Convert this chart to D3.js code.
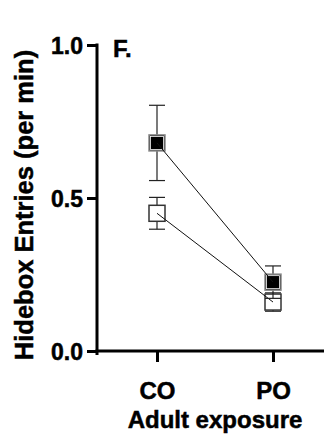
<!DOCTYPE html>
<html><head><meta charset="utf-8">
<script src="https://cdn.jsdelivr.net/npm/d3@7/dist/d3.min.js"></script>
<style>body{margin:0;background:#fff}svg{display:block}text{font-family:"Liberation Sans",Arial,sans-serif;font-weight:bold;fill:#000;stroke:#000;stroke-width:0.5px}</style>
</head><body><svg id="c" width="324" height="438"></svg>
<script>
const categories = ["CO", "PO"];
const filledMean = [0.68, 0.225];
const filledSem = [0.123, 0.053];
const openMean = [0.45, 0.16];
const openSem = [0.052, 0.03];
const yTicks = [0.0, 0.5, 1.0];

const svg = d3.select("#c");
const y = d3.scaleLinear().domain([0, 1]).range([351, 45]);
const x = d3.scalePoint().domain(categories).range([157, 273]);
const x0 = 97, x1 = 324;

// axes
const yAxis = d3.axisLeft(y).tickValues(yTicks).tickFormat(d3.format(".1f")).tickSize(10).tickPadding(4);
const gy = svg.append("g").attr("transform", `translate(${x0},0)`).call(yAxis);
gy.select(".domain").remove();
gy.selectAll(".tick line").attr("stroke", "#000").attr("stroke-width", 3);
gy.selectAll(".tick text").style("font-size", "23px").attr("dy", "0.36em");
svg.append("line").attr("x1", x0).attr("x2", x0).attr("y1", y(1) - 1.5).attr("y2", y(0) + 4).attr("stroke", "#000").attr("stroke-width", 3);

const xAxis = d3.axisBottom(x).tickSize(11).tickPadding(20);
const gx = svg.append("g").attr("transform", `translate(0,${y(0)})`).call(xAxis);
gx.select(".domain").remove();
gx.selectAll(".tick line").attr("stroke", "#000").attr("stroke-width", 3);
gx.selectAll(".tick text").style("font-size", "24px");
svg.append("line").attr("x1", x0 - 1.5).attr("x2", x1).attr("y1", y(0)).attr("y2", y(0)).attr("stroke", "#000").attr("stroke-width", 3);

// titles
svg.append("text").attr("transform", `translate(33,205) rotate(-90)`).attr("text-anchor", "middle").style("font-size", "25.5px").text("Hidebox Entries (per min)");
svg.append("text").attr("x", 215).attr("y", 428).attr("text-anchor", "middle").style("font-size", "24px").text("Adult exposure");
svg.append("text").attr("x", 113).attr("y", 57).style("font-size", "24px").text("F.");

const cap = 8, half = 8;
function series(mean, sem, fill) {
  const g = svg.append("g");
  categories.forEach((c, i) => {
    const cx = x(c);
    g.append("line").attr("x1", cx).attr("x2", cx).attr("y1", y(mean[i] + sem[i])).attr("y2", y(mean[i] - sem[i])).attr("stroke", "#222").attr("stroke-width", 1.2);
    [mean[i] + sem[i], mean[i] - sem[i]].forEach(v => {
      g.append("line").attr("x1", cx - cap).attr("x2", cx + cap).attr("y1", y(v)).attr("y2", y(v)).attr("stroke", "#222").attr("stroke-width", 1.2);
    });
  });
  categories.forEach((c, i) => {
    g.append("rect").attr("x", x(c) - half).attr("y", y(mean[i]) - half).attr("width", 2 * half).attr("height", 2 * half)
      .attr("fill", fill).attr("stroke", fill === "#000" ? "#888" : "#333").attr("stroke-width", 1.5);
    if (fill === "#000") {
      g.append("rect").attr("x", x(c) - half + 1.5).attr("y", y(mean[i]) - half + 1.5).attr("width", 2 * half - 3).attr("height", 2 * half - 3)
        .attr("fill", "#000").attr("stroke", "#fff").attr("stroke-width", 0.8);
    }
  });
  g.append("path").datum(mean).attr("fill", "none").attr("stroke", "#111").attr("stroke-width", 1)
    .attr("d", d3.line().x((d, i) => x(categories[i])).y(d => y(d)));
}
series(openMean, openSem, "#fff");
series(filledMean, filledSem, "#000");
</script></body></html>
